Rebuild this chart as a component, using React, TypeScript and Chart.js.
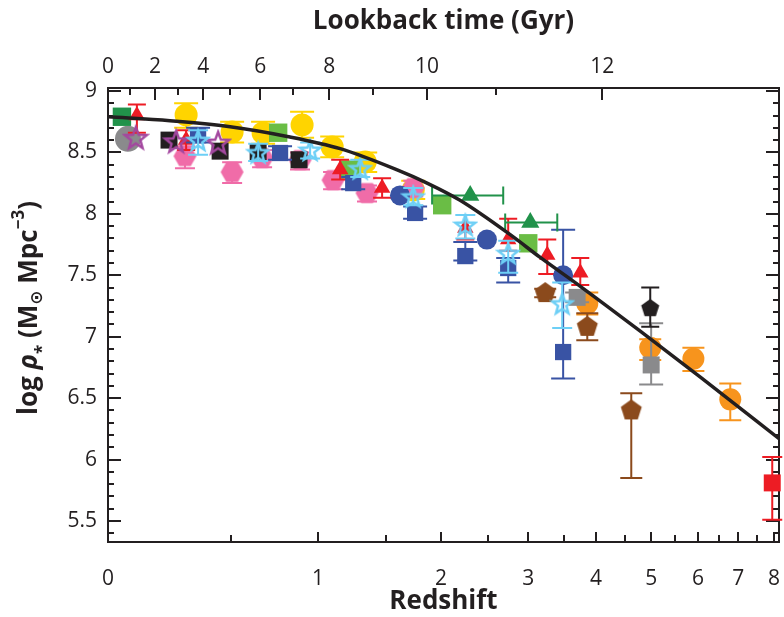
import React, { useEffect, useRef } from 'react';
import { Chart, registerables } from 'chart.js';
Chart.register(...registerables);

const FONT = '"Open Sans", "DejaVu Sans", sans-serif';
const INK = '#231f20';

// ---- axis ticks ----
const redshiftLabels = [0, 1, 2, 3, 4, 5, 6, 7, 8];
const redshiftTickZ = [0.5, 1, 1.5, 2, 2.5, 3, 3.5, 4, 4.5, 5, 5.5, 6, 6.5, 7, 7.5, 8];
const lookbackLabels = [0, 2, 4, 6, 8, 10, 12];
const lookbackLabelZ = [0, 0.168, 0.369, 0.652, 1.074, 1.865, 4.105];
const lookbackTickGyr = [1, 2, 3, 4, 5, 6, 7, 8, 9, 10, 11, 12];
const lookbackTickZ = [0.077, 0.168, 0.26, 0.369, 0.496, 0.652, 0.839, 1.074, 1.398, 1.865, 2.598, 4.105];
const rhoLabels = [5.5, 6, 6.5, 7, 7.5, 8, 8.5, 9];

// ---- best-fit curve ----
const curveZ = [0, 0.227, 0.496, 0.806, 1.151, 1.596, 1.865, 2.194, 2.769, 3.161, 3.749, 4.788, 6.057, 8.15];
const curveRho = [8.79, 8.758, 8.709, 8.63, 8.53, 8.357, 8.25, 8.11, 7.83, 7.645, 7.41, 7.045, 6.67, 6.17];

// ---- data series ----
const yellowZ = [0.294, 0.506, 0.668, 0.897, 1.095, 1.336, 1.737];
const yellowRho = [8.805, 8.666, 8.658, 8.723, 8.544, 8.422, 8.194];
const yellowLo = [8.7, 8.58, 8.57, 8.62, 8.46, 8.34, 8.12];
const yellowHi = [8.9, 8.75, 8.75, 8.83, 8.63, 8.5, 8.27];

const pinkZ = [0.289, 0.506, 0.6625, 0.884, 1.101, 1.35, 1.737];
const pinkRho = [8.47, 8.34, 8.455, 8.438, 8.275, 8.169, 8.21];
const pinkLo = [8.37, 8.25, 8.38, 8.36, 8.2, 8.1, 8.14];
const pinkHi = [8.55, 8.42, 8.52, 8.5, 8.34, 8.23, 8.27];

const grayCircleZ = [0.068];
const grayCircleRho = [8.61];

const darkGreenSquareZ = [0.047];
const darkGreenSquareRho = [8.79];

const lightGreenZ = [0.753, 1.223, 2.0115, 3.0];
const lightGreenRho = [8.66, 8.36, 8.07, 7.76];

const redTriZ = [0.1, 0.294, 1.151, 1.47, 2.25, 2.744, 3.259, 3.749];
const redTriRho = [8.8, 8.6, 8.36, 8.21, 7.885, 7.79, 7.664, 7.52];
const redTriLo = [8.66, 8.52, 8.28, 8.13, 7.79, 7.7, 7.51, 7.42];
const redTriHi = [8.89, 8.68, 8.44, 8.29, 7.99, 7.96, 7.79, 7.64];

const blackSquareZ = [0.223, 0.4475, 0.641, 0.878];
const blackSquareRho = [8.6, 8.51, 8.5, 8.44];

const blueSquareZ = [0.346, 0.764, 1.2455, 1.754, 2.25, 2.744, 3.488];
const blueSquareRho = [8.64, 8.495, 8.25, 8.007, 7.656, 7.559, 6.875];
const blueSquareLo = [8.58, 8.44, 8.2, 7.96, 7.62, 7.44, 6.66];
const blueSquareHi = [8.7, 8.55, 8.3, 8.06, 7.77, 7.64, 7.87];

const blueCircleZ = [1.62, 2.49, 3.488];
const blueCircleRho = [8.15, 7.79, 7.5];

const darkGreenTriZ = [2.303, 3.027];
const darkGreenTriRho = [8.15, 7.93];
const darkGreenTriZLo = [1.913, 2.707];
const darkGreenTriZHi = [2.683, 3.402];

const orangeZ = [3.86, 4.982, 5.897, 6.789];
const orangeRho = [7.27, 6.91, 6.82, 6.49];
const orangeLo = [7.18, 6.81, 6.72, 6.32];
const orangeHi = [7.36, 6.98, 6.91, 6.62];

const brownZ = [3.23, 3.86, 4.619];
const brownRho = [7.355, 7.08, 6.4];
const brownLo = [7.32, 6.97, 5.85];
const brownHi = [7.39, 7.19, 6.54];

const graySquareZ = [3.7, 5.0];
const graySquareRho = [7.32, 6.77];
const graySquareLo = [7.28, 6.61];
const graySquareHi = [7.36, 7.11];

const blackPentZ = [4.982];
const blackPentRho = [7.23];
const blackPentLo = [7.08];
const blackPentHi = [7.4];

const redSquareZ = [7.946];
const redSquareRho = [5.81];
const redSquareLo = [5.51];
const redSquareHi = [6.02];

const purpleStarZ = [0.096, 0.252, 0.438];
const purpleStarRho = [8.62, 8.59, 8.58];

const cyanStarZ = [0.346, 0.641, 0.948, 1.298, 1.737, 2.25, 2.744, 3.474];
const cyanStarRho = [8.6, 8.5, 8.52, 8.37, 8.14, 7.91, 7.68, 7.27];
const cyanStarLo = [8.48, 8.43, 8.45, 8.3, 8.07, 7.8, 7.52, 7.07];
const cyanStarHi = [8.68, 8.57, 8.58, 8.44, 8.21, 7.99, 7.78, 7.44];

const C = {
  yellow: '#ffd400',
  pink: '#f06ca8',
  gray: '#8a8a8c',
  darkGreen: '#21924a',
  lightGreen: '#6abd45',
  red: '#ed1c24',
  black: '#231f20',
  blue: '#3953a4',
  cyan: '#6dcff6',
  purple: '#a3479f',
  brown: '#8b4a1c',
  orange: '#f7941d',
};

const lx = (z: number) => Math.log10(1 + z);

function polyCanvas(n: number, r: number, color: string, startAngle: number) {
  const size = Math.ceil(2 * r + 2);
  const cv = document.createElement('canvas');
  cv.width = size;
  cv.height = size;
  const c = cv.getContext('2d')!;
  c.fillStyle = color;
  c.beginPath();
  for (let i = 0; i < n; i++) {
    const a = startAngle + (i * 2 * Math.PI) / n;
    const px = size / 2 + r * Math.cos(a);
    const py = size / 2 + r * Math.sin(a);
    if (i === 0) c.moveTo(px, py);
    else c.lineTo(px, py);
  }
  c.closePath();
  c.fill();
  return cv;
}

function starCanvas(R: number, color: string, lw: number) {
  const size = Math.ceil(2 * R + lw + 2);
  const cv = document.createElement('canvas');
  cv.width = size;
  cv.height = size;
  const c = cv.getContext('2d')!;
  c.strokeStyle = color;
  c.lineWidth = lw;
  c.lineJoin = 'miter';
  c.beginPath();
  const r = R * 0.42;
  for (let i = 0; i < 10; i++) {
    const a = -Math.PI / 2 + (i * Math.PI) / 5;
    const rr = i % 2 === 0 ? R : r;
    const px = size / 2 + rr * Math.cos(a);
    const py = size / 2 + 1 + rr * Math.sin(a);
    if (i === 0) c.moveTo(px, py);
    else c.lineTo(px, py);
  }
  c.closePath();
  c.stroke();
  return cv;
}

type Pt = { x: number; y: number; yMin?: number; yMax?: number; xMin?: number; xMax?: number };

function pts(zs: number[], rhos: number[], lo?: number[], hi?: number[], zlo?: number[], zhi?: number[]): Pt[] {
  return zs.map((z, i) => {
    const p: Pt = { x: lx(z), y: rhos[i] };
    if (lo && hi) {
      p.yMin = lo[i];
      p.yMax = hi[i];
    }
    if (zlo && zhi) {
      p.xMin = lx(zlo[i]);
      p.xMax = lx(zhi[i]);
    }
    return p;
  });
}

const errorBarPlugin = {
  id: 'errorBars',
  beforeDatasetDraw(chart: any, args: any) {
    const ds = chart.data.datasets[args.index];
    if (!ds.errColor) return;
    const ctx = chart.ctx;
    const xs = chart.scales.x;
    const ys = chart.scales.y;
    ctx.save();
    ctx.strokeStyle = ds.errColor;
    ctx.lineWidth = 2;
    const cap = ds.capHalf || 9;
    ds.data.forEach((p: Pt) => {
      const px = xs.getPixelForValue(p.x);
      const py = ys.getPixelForValue(p.y);
      if (p.yMin != null && p.yMax != null) {
        const y1 = ys.getPixelForValue(p.yMin);
        const y2 = ys.getPixelForValue(p.yMax);
        ctx.beginPath();
        ctx.moveTo(px, y1);
        ctx.lineTo(px, y2);
        ctx.moveTo(px - cap, y1);
        ctx.lineTo(px + cap, y1);
        ctx.moveTo(px - cap, y2);
        ctx.lineTo(px + cap, y2);
        ctx.stroke();
      }
      if (p.xMin != null && p.xMax != null) {
        const x1 = xs.getPixelForValue(p.xMin);
        const x2 = xs.getPixelForValue(p.xMax);
        ctx.beginPath();
        ctx.moveTo(x1, py);
        ctx.lineTo(x2, py);
        ctx.moveTo(x1, py - cap);
        ctx.lineTo(x1, py + cap);
        ctx.moveTo(x2, py - cap);
        ctx.lineTo(x2, py + cap);
        ctx.stroke();
      }
    });
    ctx.restore();
  },
};

const frameTicksPlugin = {
  id: 'frameTicks',
  beforeDatasetsDraw(chart: any) {
    const ctx = chart.ctx;
    const { left, right, top, bottom } = chart.chartArea;
    const xs = chart.scales.x;
    const ys = chart.scales.y;
    ctx.save();
    ctx.strokeStyle = INK;
    ctx.lineWidth = 2;
    ctx.beginPath();
    redshiftTickZ.forEach((z) => {
      const px = Math.round(xs.getPixelForValue(lx(z)));
      const len = Number.isInteger(z) ? 10 : 7;
      ctx.moveTo(px, bottom);
      ctx.lineTo(px, bottom - len);
    });
    lookbackTickZ.forEach((z, i) => {
      const px = Math.round(xs.getPixelForValue(lx(z)));
      const len = lookbackTickGyr[i] % 2 === 0 ? 12 : 7;
      ctx.moveTo(px, top);
      ctx.lineTo(px, top + len);
    });
    for (let k = 54; k <= 90; k++) {
      const py = Math.round(ys.getPixelForValue(k / 10));
      const len = k % 5 === 0 ? 13 : 6;
      ctx.moveTo(left, py);
      ctx.lineTo(left + len, py);
      ctx.moveTo(right, py);
      ctx.lineTo(right - len, py);
    }
    ctx.stroke();
    ctx.strokeRect(left, top, right - left, bottom - top);
    ctx.restore();
  },
};

const yTitlePlugin = {
  id: 'yTitle',
  afterDraw(chart: any) {
    const ctx = chart.ctx;
    const big = `bold 26px ${FONT}`;
    const bigIt = `italic bold 26px ${FONT}`;
    const small = `bold 17px ${FONT}`;
    const parts = [
      { t: 'log ', f: big, dy: 0 },
      { t: 'ρ', f: bigIt, dy: 0 },
      { t: '*', f: small, dy: 11 },
      { t: ' (M', f: big, dy: 0 },
      { t: '⊙', f: small, dy: 5 },
      { t: ' Mpc', f: big, dy: 0 },
      { t: '−3', f: small, dy: -13 },
      { t: ')', f: big, dy: 0 },
    ];
    ctx.save();
    let total = 0;
    const widths = parts.map((p) => {
      ctx.font = p.f;
      const w = ctx.measureText(p.t).width;
      total += w;
      return w;
    });
    ctx.translate(37, 308);
    ctx.rotate(-Math.PI / 2);
    ctx.fillStyle = INK;
    ctx.textBaseline = 'alphabetic';
    ctx.textAlign = 'left';
    let x = -total / 2;
    parts.forEach((p, i) => {
      ctx.font = p.f;
      ctx.fillText(p.t, x, p.dy);
      x += widths[i];
    });
    ctx.restore();
  },
};

export default function App() {
  const ref = useRef<HTMLCanvasElement>(null);
  useEffect(() => {
    document.body.style.margin = '0';
    const hex = polyCanvas(6, 11.5, C.pink, 0);
    const brownPent = polyCanvas(5, 11, C.brown, -Math.PI / 2);
    const blackPent = polyCanvas(5, 9.5, C.black, -Math.PI / 2);
    const cyanStar = starCanvas(10.5, C.cyan, 2.5);
    const purpleStar = starCanvas(11.5, C.purple, 2.5);

    const bottomToTop: any[] = [
      { label: 'yellow', data: pts(yellowZ, yellowRho, yellowLo, yellowHi), pointStyle: 'circle', pointRadius: 11.5, backgroundColor: C.yellow, errColor: C.yellow, capHalf: 12 },
      { label: 'pink', data: pts(pinkZ, pinkRho, pinkLo, pinkHi), pointStyle: hex, pointRadius: 11, backgroundColor: C.pink, errColor: C.pink, capHalf: 10 },
      { label: 'grayCircle', data: pts(grayCircleZ, grayCircleRho), pointStyle: 'circle', pointRadius: 13, backgroundColor: C.gray },
      { label: 'darkGreenSquare', data: pts(darkGreenSquareZ, darkGreenSquareRho), pointStyle: 'rect', pointRadius: 13, backgroundColor: C.darkGreen },
      { label: 'lightGreen', data: pts(lightGreenZ, lightGreenRho), pointStyle: 'rect', pointRadius: 13, backgroundColor: C.lightGreen },
      { label: 'redTri', data: pts(redTriZ, redTriRho, redTriLo, redTriHi), pointStyle: 'triangle', pointRadius: 9.5, backgroundColor: C.red, errColor: C.red, capHalf: 9 },
      { label: 'blackSquare', data: pts(blackSquareZ, blackSquareRho), pointStyle: 'rect', pointRadius: 12, backgroundColor: C.black },
      { label: 'blueSquare', data: pts(blueSquareZ, blueSquareRho, blueSquareLo, blueSquareHi), pointStyle: 'rect', pointRadius: 11.5, backgroundColor: C.blue, errColor: C.blue, capHalf: 12 },
      { label: 'blueCircle', data: pts(blueCircleZ, blueCircleRho), pointStyle: 'circle', pointRadius: 10, backgroundColor: C.blue },
      { label: 'darkGreenTri', data: pts(darkGreenTriZ, darkGreenTriRho, undefined, undefined, darkGreenTriZLo, darkGreenTriZHi), pointStyle: 'triangle', pointRadius: 10.5, backgroundColor: C.darkGreen, errColor: C.darkGreen, capHalf: 9 },
      { label: 'orange', data: pts(orangeZ, orangeRho, orangeLo, orangeHi), pointStyle: 'circle', pointRadius: 11, backgroundColor: C.orange, errColor: C.orange, capHalf: 11 },
      { label: 'brown', data: pts(brownZ, brownRho, brownLo, brownHi), pointStyle: brownPent, pointRadius: 11, backgroundColor: C.brown, errColor: C.brown, capHalf: 11 },
      { label: 'graySquare', data: pts(graySquareZ, graySquareRho, graySquareLo, graySquareHi), pointStyle: 'rect', pointRadius: 12, backgroundColor: C.gray, errColor: C.gray, capHalf: 12 },
      { label: 'blackPent', data: pts(blackPentZ, blackPentRho, blackPentLo, blackPentHi), pointStyle: blackPent, pointRadius: 9.5, backgroundColor: C.black, errColor: C.black, capHalf: 9 },
      { label: 'redSquare', data: pts(redSquareZ, redSquareRho, redSquareLo, redSquareHi), pointStyle: 'rect', pointRadius: 12, backgroundColor: C.red, errColor: C.red, capHalf: 10, clip: false },
      { label: 'purpleStar', data: pts(purpleStarZ, purpleStarRho), pointStyle: purpleStar, pointRadius: 11 },
      { label: 'cyanStar', data: pts(cyanStarZ, cyanStarRho, cyanStarLo, cyanStarHi), pointStyle: cyanStar, pointRadius: 10, errColor: C.cyan, capHalf: 10 },
      {
        label: 'curve',
        type: 'line',
        data: curveZ.map((z, i) => ({ x: lx(z), y: curveRho[i] })),
        borderColor: INK,
        borderWidth: 3.5,
        pointRadius: 0,
        cubicInterpolationMode: 'monotone',
        fill: false,
      },
    ];
    const N = bottomToTop.length;
    const datasets = bottomToTop.map((d, i) => ({
      type: 'scatter',
      pointBorderWidth: 0,
      borderWidth: 0,
      pointHoverRadius: d.pointRadius,
      ...d,
      order: N - i,
    }));

    const tickFont = { family: FONT, size: 21 };
    const chart = new Chart(ref.current!, {
      type: 'scatter',
      data: { datasets },
      plugins: [errorBarPlugin, frameTicksPlugin, yTitlePlugin],
      options: {
        animation: false,
        responsive: false,
        devicePixelRatio: 1,
        layout: { autoPadding: false, padding: { left: 0, right: 5, top: 0, bottom: 0 } },
        plugins: { legend: { display: false }, tooltip: { enabled: false } },
        scales: {
          x: {
            type: 'linear',
            position: 'bottom',
            min: 0,
            max: 0.9613,
            grid: { display: false, drawTicks: false },
            border: { display: false },
            afterBuildTicks: (s: any) => {
              s.ticks = redshiftLabels.map((z) => ({ value: lx(z) }));
            },
            afterFit: (s: any) => {
              s.height = 75;
              s.paddingLeft = 0;
              s.paddingRight = 0;
            },
            ticks: {
              autoSkip: false,
              maxRotation: 0,
              padding: 24,
              color: INK,
              font: tickFont,
              callback: (_v: any, i: number) => String(redshiftLabels[i]),
            },
            title: {
              display: true,
              text: 'Redshift',
              color: INK,
              font: { family: FONT, size: 26, weight: 'bold' },
              padding: { top: 0, bottom: 0 },
            },
          },
          x2: {
            type: 'linear',
            position: 'top',
            min: 0,
            max: 0.9613,
            grid: { display: false, drawTicks: false },
            border: { display: false },
            afterBuildTicks: (s: any) => {
              s.ticks = lookbackLabelZ.map((z) => ({ value: lx(z) }));
            },
            afterFit: (s: any) => {
              s.height = 88;
              s.paddingLeft = 0;
              s.paddingRight = 0;
            },
            ticks: {
              autoSkip: false,
              maxRotation: 0,
              padding: 8,
              color: INK,
              font: tickFont,
              callback: (_v: any, i: number) => String(lookbackLabels[i]),
            },
            title: {
              display: true,
              text: 'Lookback time (Gyr)',
              color: INK,
              font: { family: FONT, size: 26, weight: 'bold' },
              padding: { top: 6, bottom: 0 },
            },
          },
          y: {
            type: 'linear',
            min: 5.329,
            max: 9.024,
            grid: { display: false, drawTicks: false },
            border: { display: false },
            afterBuildTicks: (s: any) => {
              s.ticks = rhoLabels.map((v) => ({ value: v }));
            },
            afterFit: (s: any) => {
              s.width = 108;
              s.paddingTop = 0;
              s.paddingBottom = 0;
            },
            ticks: {
              padding: 11,
              color: INK,
              font: tickFont,
              callback: (v: any) => String(v),
            },
          },
        },
      } as any,
    } as any);
    return () => chart.destroy();
  }, []);
  return (
    <div style={{ width: 784, height: 617 }}>
      <canvas ref={ref} width={784} height={617} style={{ display: 'block' }} />
    </div>
  );
}
